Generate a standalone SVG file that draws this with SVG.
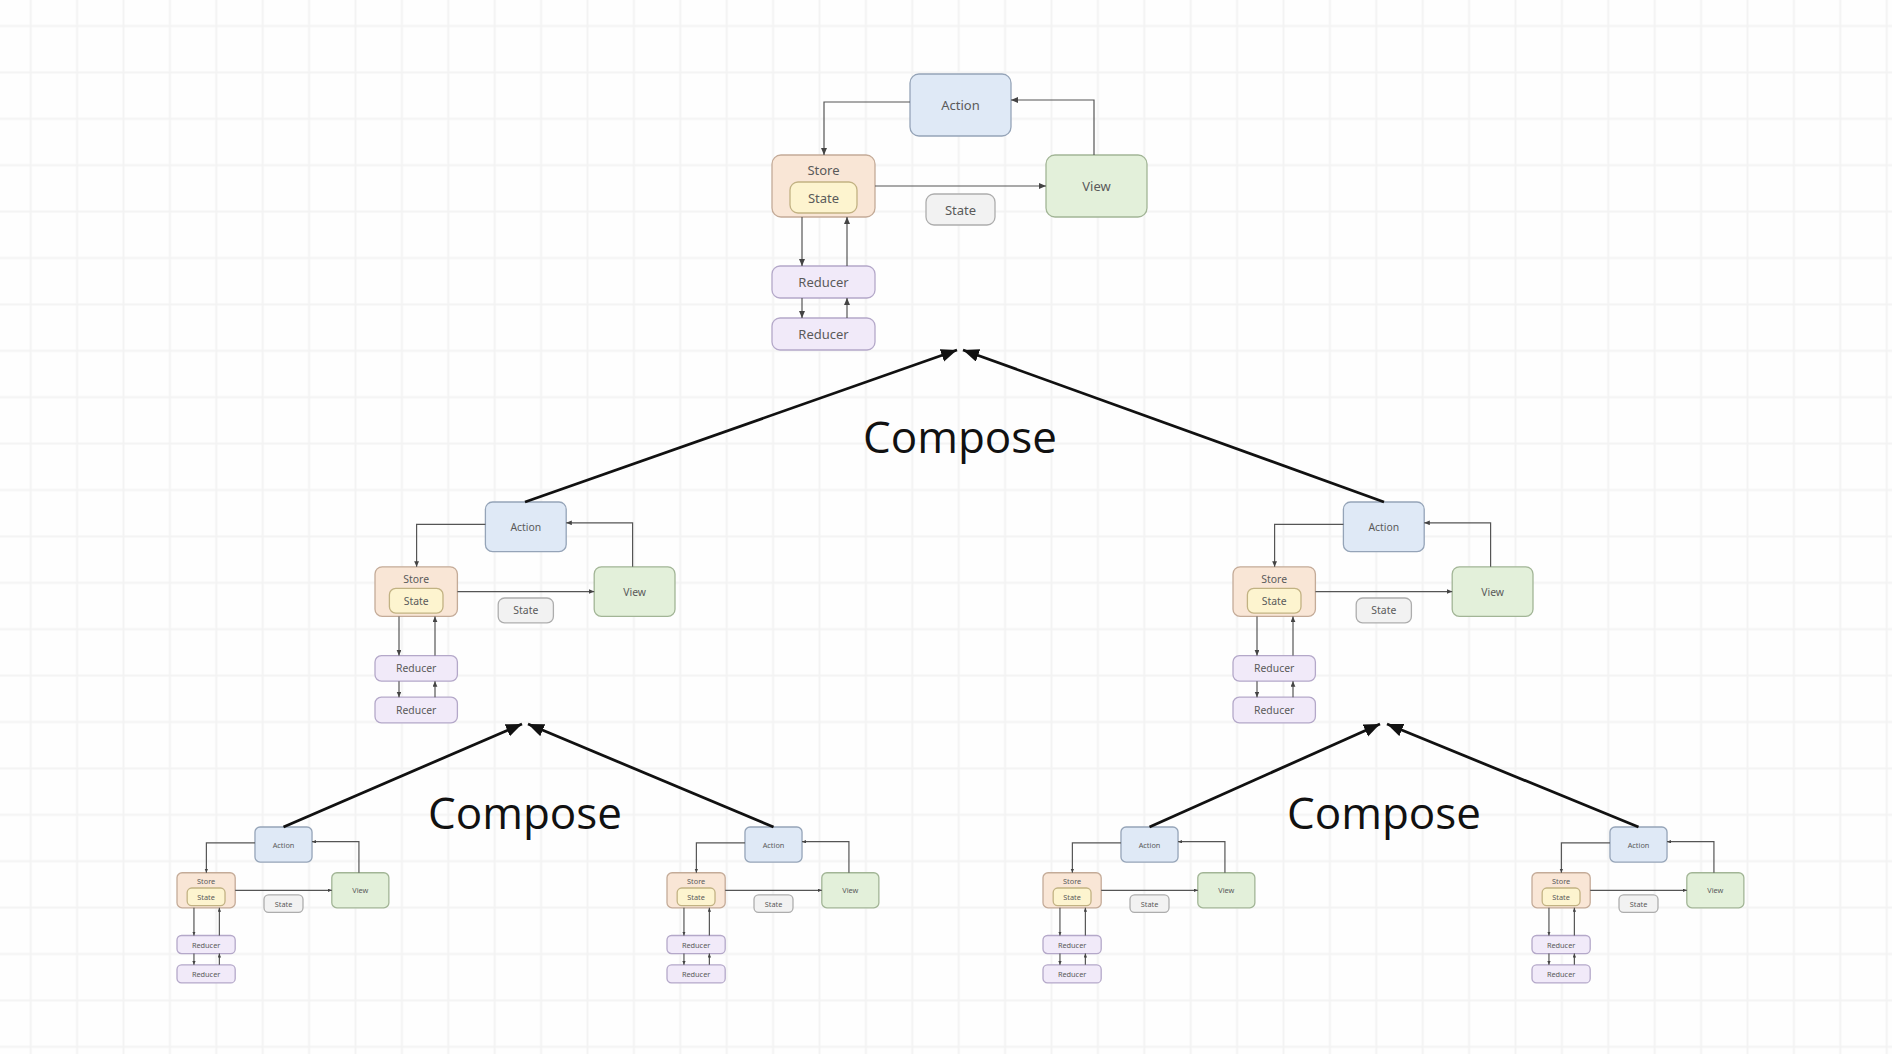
<svg xmlns="http://www.w3.org/2000/svg" width="1892" height="1054" viewBox="0 0 1892 1054">
<style>
.box{stroke-width:1.3;vector-effect:non-scaling-stroke}
.action{fill:#dfe9f6;stroke:#95a4b8}
.store{fill:#f9e6d6;stroke:#c4ab98}
.istate{fill:#fdf4cf;stroke:#c2b283}
.view{fill:#e3f0da;stroke:#a2b596}
.slabel{fill:#f2f2f2;stroke:#adadad}
.reducer{fill:#f1eaf9;stroke:#b4a8c9}
.lbl{font-family:"Noto Sans","Open Sans",sans-serif;font-size:13px;fill:#5a5a5a;text-anchor:middle;dominant-baseline:central}
.link{fill:none;stroke:#555;stroke-width:1.2;vector-effect:non-scaling-stroke}
.compose{fill:none;stroke:#111;stroke-width:2.8}
.ctext{font-family:"Open Sans","Noto Sans",sans-serif;font-size:44px;fill:#111;text-anchor:middle}
</style>
<defs>
<pattern id="grid" patternUnits="userSpaceOnUse" x="7.5" y="2.8" width="46.4" height="46.4">
<path d="M23.2,0 V46.4 M0,23.2 H46.4" stroke="#f3f3f3" stroke-width="2" fill="none"/>
</pattern>
<marker id="sm" markerUnits="userSpaceOnUse" markerWidth="8" markerHeight="7" refX="7" refY="3" orient="auto">
<path d="M0,0 L7,3 L0,6 z" fill="#444"/>
</marker>
<marker id="big" markerUnits="userSpaceOnUse" markerWidth="18" markerHeight="14" refX="16" refY="6.5" orient="auto">
<path d="M0,0 L16,6.5 L0,13 z" fill="#111"/>
</marker>
</defs>
<rect width="1892" height="1054" fill="#fefefe"/>
<rect width="1892" height="1054" fill="url(#grid)"/>

<!-- Top cluster -->
<g id="top" transform="translate(772,74)">
<g id="top-action"><rect class="box action" x="138" y="0" width="101" height="62" rx="9"/><text class="lbl" x="188.5" y="31">Action</text></g>
<g id="top-store"><rect class="box store" x="0" y="81" width="103" height="62" rx="9"/><text class="lbl" x="51.5" y="96">Store</text>
<g id="top-store-state"><rect class="box istate" x="18" y="108" width="67" height="31" rx="8"/><text class="lbl" x="51.5" y="123.5">State</text></g></g>
<g id="top-view"><rect class="box view" x="274" y="81" width="101" height="62" rx="9"/><text class="lbl" x="324.5" y="112">View</text></g>
<g id="top-state"><rect class="box slabel" x="154" y="120" width="69" height="31" rx="8"/><text class="lbl" x="188.5" y="135.5">State</text></g>
<g id="top-reducer1"><rect class="box reducer" x="0" y="192" width="103" height="32" rx="8"/><text class="lbl" x="51.5" y="208">Reducer</text></g>
<g id="top-reducer2"><rect class="box reducer" x="0" y="244" width="103" height="32" rx="8"/><text class="lbl" x="51.5" y="260">Reducer</text></g>
</g>

<!-- Middle left cluster -->
<g id="ml" transform="translate(375,502) scale(0.8)">
<g id="ml-action"><rect class="box action" x="138" y="0" width="101" height="62" rx="9"/><text class="lbl" x="188.5" y="31">Action</text></g>
<g id="ml-store"><rect class="box store" x="0" y="81" width="103" height="62" rx="9"/><text class="lbl" x="51.5" y="96">Store</text>
<g id="ml-store-state"><rect class="box istate" x="18" y="108" width="67" height="31" rx="8"/><text class="lbl" x="51.5" y="123.5">State</text></g></g>
<g id="ml-view"><rect class="box view" x="274" y="81" width="101" height="62" rx="9"/><text class="lbl" x="324.5" y="112">View</text></g>
<g id="ml-state"><rect class="box slabel" x="154" y="120" width="69" height="31" rx="8"/><text class="lbl" x="188.5" y="135.5">State</text></g>
<g id="ml-reducer1"><rect class="box reducer" x="0" y="192" width="103" height="32" rx="8"/><text class="lbl" x="51.5" y="208">Reducer</text></g>
<g id="ml-reducer2"><rect class="box reducer" x="0" y="244" width="103" height="32" rx="8"/><text class="lbl" x="51.5" y="260">Reducer</text></g>
</g>

<!-- Middle right cluster -->
<g id="mr" transform="translate(1233,502) scale(0.8)">
<g id="mr-action"><rect class="box action" x="138" y="0" width="101" height="62" rx="9"/><text class="lbl" x="188.5" y="31">Action</text></g>
<g id="mr-store"><rect class="box store" x="0" y="81" width="103" height="62" rx="9"/><text class="lbl" x="51.5" y="96">Store</text>
<g id="mr-store-state"><rect class="box istate" x="18" y="108" width="67" height="31" rx="8"/><text class="lbl" x="51.5" y="123.5">State</text></g></g>
<g id="mr-view"><rect class="box view" x="274" y="81" width="101" height="62" rx="9"/><text class="lbl" x="324.5" y="112">View</text></g>
<g id="mr-state"><rect class="box slabel" x="154" y="120" width="69" height="31" rx="8"/><text class="lbl" x="188.5" y="135.5">State</text></g>
<g id="mr-reducer1"><rect class="box reducer" x="0" y="192" width="103" height="32" rx="8"/><text class="lbl" x="51.5" y="208">Reducer</text></g>
<g id="mr-reducer2"><rect class="box reducer" x="0" y="244" width="103" height="32" rx="8"/><text class="lbl" x="51.5" y="260">Reducer</text></g>
</g>

<!-- Bottom clusters -->
<g id="b1" transform="translate(177,827) scale(0.565)">
<g id="b1-action"><rect class="box action" x="138" y="0" width="101" height="62" rx="9"/><text class="lbl" x="188.5" y="31">Action</text></g>
<g id="b1-store"><rect class="box store" x="0" y="81" width="103" height="62" rx="9"/><text class="lbl" x="51.5" y="96">Store</text>
<g id="b1-store-state"><rect class="box istate" x="18" y="108" width="67" height="31" rx="8"/><text class="lbl" x="51.5" y="123.5">State</text></g></g>
<g id="b1-view"><rect class="box view" x="274" y="81" width="101" height="62" rx="9"/><text class="lbl" x="324.5" y="112">View</text></g>
<g id="b1-state"><rect class="box slabel" x="154" y="120" width="69" height="31" rx="8"/><text class="lbl" x="188.5" y="135.5">State</text></g>
<g id="b1-reducer1"><rect class="box reducer" x="0" y="192" width="103" height="32" rx="8"/><text class="lbl" x="51.5" y="208">Reducer</text></g>
<g id="b1-reducer2"><rect class="box reducer" x="0" y="244" width="103" height="32" rx="8"/><text class="lbl" x="51.5" y="260">Reducer</text></g>
</g>
<g id="b2" transform="translate(667,827) scale(0.565)">
<g id="b2-action"><rect class="box action" x="138" y="0" width="101" height="62" rx="9"/><text class="lbl" x="188.5" y="31">Action</text></g>
<g id="b2-store"><rect class="box store" x="0" y="81" width="103" height="62" rx="9"/><text class="lbl" x="51.5" y="96">Store</text>
<g id="b2-store-state"><rect class="box istate" x="18" y="108" width="67" height="31" rx="8"/><text class="lbl" x="51.5" y="123.5">State</text></g></g>
<g id="b2-view"><rect class="box view" x="274" y="81" width="101" height="62" rx="9"/><text class="lbl" x="324.5" y="112">View</text></g>
<g id="b2-state"><rect class="box slabel" x="154" y="120" width="69" height="31" rx="8"/><text class="lbl" x="188.5" y="135.5">State</text></g>
<g id="b2-reducer1"><rect class="box reducer" x="0" y="192" width="103" height="32" rx="8"/><text class="lbl" x="51.5" y="208">Reducer</text></g>
<g id="b2-reducer2"><rect class="box reducer" x="0" y="244" width="103" height="32" rx="8"/><text class="lbl" x="51.5" y="260">Reducer</text></g>
</g>
<g id="b3" transform="translate(1043,827) scale(0.565)">
<g id="b3-action"><rect class="box action" x="138" y="0" width="101" height="62" rx="9"/><text class="lbl" x="188.5" y="31">Action</text></g>
<g id="b3-store"><rect class="box store" x="0" y="81" width="103" height="62" rx="9"/><text class="lbl" x="51.5" y="96">Store</text>
<g id="b3-store-state"><rect class="box istate" x="18" y="108" width="67" height="31" rx="8"/><text class="lbl" x="51.5" y="123.5">State</text></g></g>
<g id="b3-view"><rect class="box view" x="274" y="81" width="101" height="62" rx="9"/><text class="lbl" x="324.5" y="112">View</text></g>
<g id="b3-state"><rect class="box slabel" x="154" y="120" width="69" height="31" rx="8"/><text class="lbl" x="188.5" y="135.5">State</text></g>
<g id="b3-reducer1"><rect class="box reducer" x="0" y="192" width="103" height="32" rx="8"/><text class="lbl" x="51.5" y="208">Reducer</text></g>
<g id="b3-reducer2"><rect class="box reducer" x="0" y="244" width="103" height="32" rx="8"/><text class="lbl" x="51.5" y="260">Reducer</text></g>
</g>
<g id="b4" transform="translate(1532,827) scale(0.565)">
<g id="b4-action"><rect class="box action" x="138" y="0" width="101" height="62" rx="9"/><text class="lbl" x="188.5" y="31">Action</text></g>
<g id="b4-store"><rect class="box store" x="0" y="81" width="103" height="62" rx="9"/><text class="lbl" x="51.5" y="96">Store</text>
<g id="b4-store-state"><rect class="box istate" x="18" y="108" width="67" height="31" rx="8"/><text class="lbl" x="51.5" y="123.5">State</text></g></g>
<g id="b4-view"><rect class="box view" x="274" y="81" width="101" height="62" rx="9"/><text class="lbl" x="324.5" y="112">View</text></g>
<g id="b4-state"><rect class="box slabel" x="154" y="120" width="69" height="31" rx="8"/><text class="lbl" x="188.5" y="135.5">State</text></g>
<g id="b4-reducer1"><rect class="box reducer" x="0" y="192" width="103" height="32" rx="8"/><text class="lbl" x="51.5" y="208">Reducer</text></g>
<g id="b4-reducer2"><rect class="box reducer" x="0" y="244" width="103" height="32" rx="8"/><text class="lbl" x="51.5" y="260">Reducer</text></g>
</g>

<!-- Connectors -->
<g id="connectors">
<g transform="translate(772,74)">
<path class="link" d="M138,28 H52 V81" marker-end="url(#sm)"/>
<path class="link" d="M322,81 V26 H239" marker-end="url(#sm)"/>
<path class="link" d="M103,112 H274" marker-end="url(#sm)"/>
<path class="link" d="M30,143 V192" marker-end="url(#sm)"/>
<path class="link" d="M75,192 V143" marker-end="url(#sm)"/>
<path class="link" d="M30,224 V244" marker-end="url(#sm)"/>
<path class="link" d="M75,244 V224" marker-end="url(#sm)"/>
</g>
<g transform="translate(375,502) scale(0.8)">
<path class="link" d="M138,28 H52 V81" marker-end="url(#sm)"/>
<path class="link" d="M322,81 V26 H239" marker-end="url(#sm)"/>
<path class="link" d="M103,112 H274" marker-end="url(#sm)"/>
<path class="link" d="M30,143 V192" marker-end="url(#sm)"/>
<path class="link" d="M75,192 V143" marker-end="url(#sm)"/>
<path class="link" d="M30,224 V244" marker-end="url(#sm)"/>
<path class="link" d="M75,244 V224" marker-end="url(#sm)"/>
</g>
<g transform="translate(1233,502) scale(0.8)">
<path class="link" d="M138,28 H52 V81" marker-end="url(#sm)"/>
<path class="link" d="M322,81 V26 H239" marker-end="url(#sm)"/>
<path class="link" d="M103,112 H274" marker-end="url(#sm)"/>
<path class="link" d="M30,143 V192" marker-end="url(#sm)"/>
<path class="link" d="M75,192 V143" marker-end="url(#sm)"/>
<path class="link" d="M30,224 V244" marker-end="url(#sm)"/>
<path class="link" d="M75,244 V224" marker-end="url(#sm)"/>
</g>
<g transform="translate(177,827) scale(0.565)">
<path class="link" d="M138,28 H52 V81" marker-end="url(#sm)"/>
<path class="link" d="M322,81 V26 H239" marker-end="url(#sm)"/>
<path class="link" d="M103,112 H274" marker-end="url(#sm)"/>
<path class="link" d="M30,143 V192" marker-end="url(#sm)"/>
<path class="link" d="M75,192 V143" marker-end="url(#sm)"/>
<path class="link" d="M30,224 V244" marker-end="url(#sm)"/>
<path class="link" d="M75,244 V224" marker-end="url(#sm)"/>
</g>
<g transform="translate(667,827) scale(0.565)">
<path class="link" d="M138,28 H52 V81" marker-end="url(#sm)"/>
<path class="link" d="M322,81 V26 H239" marker-end="url(#sm)"/>
<path class="link" d="M103,112 H274" marker-end="url(#sm)"/>
<path class="link" d="M30,143 V192" marker-end="url(#sm)"/>
<path class="link" d="M75,192 V143" marker-end="url(#sm)"/>
<path class="link" d="M30,224 V244" marker-end="url(#sm)"/>
<path class="link" d="M75,244 V224" marker-end="url(#sm)"/>
</g>
<g transform="translate(1043,827) scale(0.565)">
<path class="link" d="M138,28 H52 V81" marker-end="url(#sm)"/>
<path class="link" d="M322,81 V26 H239" marker-end="url(#sm)"/>
<path class="link" d="M103,112 H274" marker-end="url(#sm)"/>
<path class="link" d="M30,143 V192" marker-end="url(#sm)"/>
<path class="link" d="M75,192 V143" marker-end="url(#sm)"/>
<path class="link" d="M30,224 V244" marker-end="url(#sm)"/>
<path class="link" d="M75,244 V224" marker-end="url(#sm)"/>
</g>
<g transform="translate(1532,827) scale(0.565)">
<path class="link" d="M138,28 H52 V81" marker-end="url(#sm)"/>
<path class="link" d="M322,81 V26 H239" marker-end="url(#sm)"/>
<path class="link" d="M103,112 H274" marker-end="url(#sm)"/>
<path class="link" d="M30,143 V192" marker-end="url(#sm)"/>
<path class="link" d="M75,192 V143" marker-end="url(#sm)"/>
<path class="link" d="M30,224 V244" marker-end="url(#sm)"/>
<path class="link" d="M75,244 V224" marker-end="url(#sm)"/>
</g>
<path class="compose" d="M525,502 L957,350" marker-end="url(#big)"/>
<path class="compose" d="M1384,502 L963,350" marker-end="url(#big)"/>
<path class="compose" d="M283.5,827 L522,724" marker-end="url(#big)"/>
<path class="compose" d="M773.5,827 L528,724" marker-end="url(#big)"/>
<path class="compose" d="M1149.5,827 L1380,724" marker-end="url(#big)"/>
<path class="compose" d="M1638.5,827 L1387,724" marker-end="url(#big)"/>
</g>

<g id="compose-labels">
<text class="ctext" x="960" y="453">Compose</text>
<text class="ctext" x="525" y="829">Compose</text>
<text class="ctext" x="1384" y="829">Compose</text>
</g>
</svg>
